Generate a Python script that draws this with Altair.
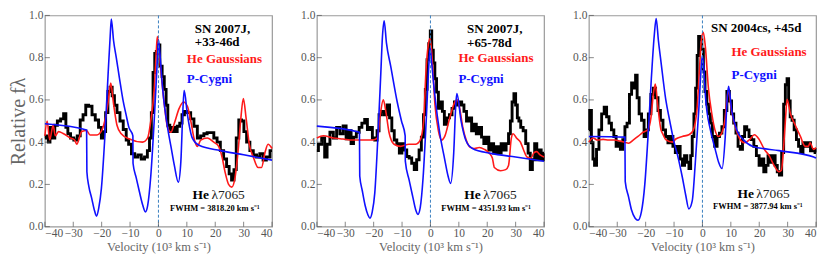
import altair as alt
import pandas as pd

FONT = "Liberation Serif"
W, H = 228, 212
SPACING = 21

X_TICKS = [-40, -30, -20, -10, 0, 10, 20, 30, 40]
Y_TICKS = [0.0, 0.2, 0.4, 0.6, 0.8, 1.0]
ZERO_LINE = [0]

# ---------------- Panel 1: SN 2007J, +33-46d ----------------
p1_black = [(-40,0.42),(-39.1,0.43),(-38.5,0.40),(-37.9,0.47),(-36.8,0.42),(-36.2,0.48),(-35,0.50),(-33.9,0.51),
            (-32.9,0.535),(-32.3,0.47),(-31.5,0.44),(-30.4,0.42),(-29.2,0.41),(-28,0.43),(-27.1,0.505),(-26,0.53),
            (-25.2,0.575),(-24,0.57),(-22.8,0.53),(-21.7,0.505),(-20.5,0.47),(-19.7,0.42),(-19,0.45),(-18.2,0.54),
            (-17.4,0.64),(-16.7,0.66),(-15.9,0.62),(-15.1,0.575),(-14.1,0.54),(-13,0.50),(-11.8,0.46),(-10.9,0.41),
            (-10.1,0.39),(-8.9,0.345),(-7.8,0.33),(-6.6,0.34),(-5.5,0.32),(-4.3,0.33),(-3.5,0.36),(-2.8,0.42),
            (-2.2,0.54),(-1.6,0.73),(-1,0.82),(-0.5,0.83),(0.1,0.86),(0.9,0.76),(1.7,0.71),(2.4,0.65),(3,0.575),
            (3.6,0.48),(4.4,0.45),(5.3,0.47),(6.1,0.45),(7.1,0.475),(7.9,0.49),(8.7,0.53),(9.6,0.546),(10.8,0.54),
            (11.9,0.51),(13.1,0.475),(14.3,0.42),(15.4,0.43),(16.6,0.44),(17.7,0.445),(18.9,0.445),(20.1,0.42),
            (21.2,0.40),(22.4,0.36),(23.5,0.32),(24.5,0.285),(25.3,0.25),(26.2,0.22),(27,0.27),(27.8,0.42),
            (28.8,0.505),(29.7,0.50),(30.5,0.45),(31.6,0.40),(32.8,0.36),(34,0.34),(35.1,0.33),(36.3,0.345),
            (37.4,0.315),(38.6,0.33),(40,0.36)]
p1_red = [(-40,0.43),(-39.2,0.50),(-38.3,0.41),(-37.1,0.48),(-36.3,0.43),(-35.2,0.45),(-33.4,0.44),(-31.1,0.42),
          (-29.5,0.41),(-28.8,0.39),(-27,0.45),(-25.3,0.455),(-24.1,0.434),(-21.8,0.434),(-20.2,0.45),(-18.9,0.50),
          (-17.7,0.59),(-16.8,0.68),(-15.8,0.58),(-14.6,0.48),(-13.1,0.44),(-10.2,0.415),(-5.6,0.40),(-3.8,0.42),
          (-2.7,0.50),(-1.5,0.65),(-0.8,0.82),(-0.4,0.90),(0.7,0.76),(2.1,0.575),(3.2,0.47),(4.4,0.447),(5.6,0.49),
          (7.3,0.56),(8.8,0.59),(10.2,0.57),(11.4,0.50),(12.5,0.42),(13.7,0.38),(14.9,0.41),(17.2,0.42),(19.5,0.40),
          (21.2,0.38),(22.4,0.33),(23.5,0.256),(24.7,0.20),(25.8,0.187),(27,0.235),(28.2,0.38),(29,0.51),(29.9,0.606),
          (30.9,0.51),(32,0.39),(33.4,0.33),(35.1,0.28),(36.3,0.28),(37.5,0.35),(38.6,0.39),(40,0.37)]
p1_blue = [(-40,0.487),(-25.3,0.458),(-25.2,0.26),(-24.5,0.19),(-23.5,0.134),(-22.5,0.075),(-21.8,0.05),(-21,0.09),
           (-20.1,0.18),(-18.9,0.42),(-17.7,0.73),(-17,0.9),(-16.6,0.983),(-15.8,0.88),(-14.85,0.80),(-13.7,0.70),
           (-12.5,0.60),(-11.4,0.53),(-10.4,0.47),(-9.0,0.43),(-8.95,0.30),(-7.8,0.23),(-6.7,0.165),(-5.6,0.105),
           (-4.6,0.07),(-3.8,0.10),(-2.7,0.24),(-1.5,0.50),(-0.35,0.80),(0,0.885),(0.5,0.82),(1.5,0.65),(3.2,0.47),
           (4.4,0.38),(5.6,0.29),(7.0,0.21),(7.9,0.31),(8.6,0.55),(9.05,0.645),(10.2,0.53),(11.9,0.42),(14.3,0.385),
           (21.8,0.36),(30,0.34),(40,0.315)]

# ---------------- Panel 2: SN 2007J, +65-78d ----------------
p2_black = [(-40,0.36),(-38.9,0.39),(-37.7,0.42),(-36.8,0.33),(-36,0.39),(-34.8,0.447),(-33.6,0.42),(-32.5,0.47),
            (-31.3,0.44),(-30.2,0.477),(-29.2,0.416),(-28.4,0.454),(-27.5,0.393),(-26.7,0.424),(-25.5,0.447),
            (-24.7,0.47),(-23.6,0.49),(-22.7,0.507),(-21.7,0.46),(-20.9,0.47),(-20,0.42),(-19.2,0.41),(-18.4,0.454),
            (-17.8,0.53),(-16.9,0.546),(-15.7,0.53),(-14.8,0.576),(-14,0.515),(-13.2,0.454),(-12.3,0.41),(-11.4,0.393),
            (-10.5,0.348),(-9.6,0.393),(-8.8,0.363),(-7.9,0.332),(-7.1,0.325),(-6.1,0.30),(-5.3,0.27),(-4.4,0.317),
            (-3.6,0.363),(-2.8,0.424),(-2.1,0.53),(-1.5,0.65),(-0.9,0.79),(-0.3,0.866),(0.2,0.927),(0.7,0.835),
            (1.3,0.775),(1.8,0.70),(2.5,0.637),(3.1,0.56),(3.9,0.59),(4.5,0.546),(5.3,0.485),(6.2,0.515),(7.2,0.53),
            (8,0.56),(8.9,0.59),(9.7,0.576),(10.6,0.59),(11.4,0.576),(12.2,0.546),(13.2,0.50),(14.1,0.515),(14.9,0.454),
            (15.7,0.485),(16.6,0.44),(17.6,0.47),(18.4,0.424),(19.2,0.393),(20.1,0.424),(21,0.363),(21.8,0.393),
            (22.7,0.348),(23.6,0.378),(24.5,0.348),(25.3,0.393),(26.2,0.363),(27.1,0.393),(27.9,0.44),(28.4,0.50),
            (29.1,0.59),(29.7,0.63),(30.3,0.576),(30.9,0.515),(31.4,0.50),(32.2,0.47),(33.1,0.454),(34,0.393),
            (34.8,0.348),(35.5,0.27),(36.3,0.317),(37.1,0.393),(37.8,0.317),(38.6,0.363),(39.4,0.317),(40,0.348)]
p2_red = [(-40,0.42),(-37.7,0.43),(-34.2,0.42),(-30.8,0.415),(-27.3,0.41),(-23.8,0.41),(-20.3,0.41),(-18.6,0.42),
          (-17.8,0.515),(-16.6,0.60),(-15.7,0.545),(-14.6,0.447),(-12.8,0.39),(-10.5,0.38),(-7.6,0.39),(-5.3,0.39),
          (-3.6,0.41),(-2.4,0.50),(-1.6,0.73),(-0.7,0.866),(-0.1,0.89),(0.7,0.775),(1.6,0.576),(2.8,0.454),(3.9,0.41),
          (5.1,0.43),(6.8,0.515),(8.6,0.59),(9.5,0.60),(10.3,0.56),(11.4,0.47),(12.6,0.41),(13.8,0.378),(15.5,0.37),
          (17.2,0.375),(19,0.366),(20.7,0.348),(21.8,0.325),(22.5,0.28),(24.7,0.265),(26.5,0.27),(27.5,0.29),
          (28.5,0.42),(29.1,0.44),(30.3,0.42),(31.7,0.40),(32.8,0.363),(34,0.33),(35.4,0.325),(36.5,0.35),
          (37.4,0.355),(38.6,0.34),(40,0.33)]
p2_blue = [(-40,0.476),(-25.0,0.447),(-24.9,0.24),(-24,0.17),(-23,0.10),(-22,0.055),(-21.3,0.04),(-20.5,0.07),
           (-19.6,0.16),(-18.6,0.40),(-17.5,0.72),(-16.9,0.90),(-16.3,0.975),(-15.5,0.87),(-14,0.76),(-11.7,0.59),
           (-10.2,0.50),(-8.9,0.43),(-8.85,0.31),(-7.5,0.22),(-6.2,0.14),(-5.2,0.08),(-4.4,0.058),(-3.6,0.09),
           (-2.6,0.23),(-1.5,0.50),(-0.5,0.78),(-0.1,0.845),(0.4,0.78),(1.56,0.62),(3.3,0.44),(5.0,0.32),(6.2,0.24),
           (7.1,0.205),(8.2,0.35),(8.9,0.57),(9.3,0.63),(10.8,0.50),(12.5,0.408),(14.8,0.37),(21.2,0.347),(30,0.33),
           (40,0.31)]

# ---------------- Panel 3: SN 2004cs, +45d ----------------
p3_black = [(-40,0.458),(-39.4,0.55),(-38.8,0.397),(-38.3,0.32),(-37.7,0.29),(-36.9,0.366),(-36,0.458),(-35,0.534),
            (-34.2,0.565),(-33.3,0.52),(-32.5,0.49),(-31.6,0.458),(-30.8,0.427),(-30,0.38),(-29.3,0.397),(-28.5,0.366),
            (-27.6,0.412),(-27,0.473),(-26.1,0.49),(-25.3,0.626),(-24.6,0.68),(-23.8,0.656),(-23.3,0.717),(-22.7,0.61),
            (-21.9,0.534),(-21,0.504),(-20.1,0.427),(-19.5,0.458),(-18.6,0.534),(-17.7,0.626),(-16.9,0.656),(-16.1,0.61),
            (-15.2,0.55),(-14.4,0.504),(-13.4,0.458),(-12.6,0.427),(-11.7,0.397),(-10.8,0.427),(-10,0.38),(-9.1,0.351),
            (-8.3,0.38),(-7.4,0.32),(-6.7,0.29),(-5.9,0.336),(-5.1,0.305),(-4.4,0.275),(-3.9,0.336),(-3.3,0.427),
            (-2.7,0.534),(-2.1,0.656),(-1.6,0.81),(-1.1,0.90),(-0.5,0.885),(0.06,0.84),(0.6,0.733),(1.2,0.64),(1.9,0.58),
            (2.5,0.534),(3.1,0.49),(3.9,0.427),(4.7,0.38),(5.6,0.427),(6.4,0.443),(7.3,0.473),(8.1,0.55),(9.1,0.64),
            (9.9,0.595),(10.6,0.534),(11.4,0.49),(12.2,0.443),(12.9,0.38),(13.7,0.366),(14.5,0.427),(15.2,0.473),
            (16,0.458),(16.8,0.427),(17.7,0.412),(18.5,0.38),(19.5,0.336),(20.4,0.29),(21.2,0.32),(22,0.26),(22.7,0.29),
            (23.5,0.336),(24.3,0.305),(25.2,0.336),(26,0.29),(26.7,0.26),(27.5,0.244),(28.3,0.351),(28.9,0.58),
            (29.5,0.672),(30.1,0.70),(30.6,0.595),(31.2,0.52),(31.9,0.504),(32.7,0.458),(33.5,0.412),(34.2,0.38),
            (35,0.351),(35.8,0.397),(36.8,0.38),(37.6,0.397),(38.5,0.359),(39.3,0.366),(40,0.351)]
p3_red = [(-40,0.40),(-38.5,0.42),(-37,0.41),(-35,0.413),(-33,0.41),(-31,0.41),(-29,0.405),(-27.5,0.40),(-26,0.395),
          (-24.4,0.41),(-22.7,0.427),(-21,0.446),(-19.2,0.46),(-18.1,0.52),(-17.3,0.626),(-16.6,0.675),(-15.8,0.58),
          (-14.6,0.458),(-14,0.44),(-12.9,0.412),(-10.6,0.40),(-9.4,0.415),(-7.1,0.427),(-4.8,0.435),(-3.3,0.455),
          (-1.9,0.56),(-1.1,0.733),(-0.4,0.88),(0.3,0.92),(1,0.855),(2.1,0.656),(3.3,0.534),(4.4,0.458),(5.6,0.427),
          (6.8,0.443),(7.9,0.504),(9.1,0.645),(10.2,0.55),(11.9,0.458),(13.7,0.405),(14.8,0.397),(16.6,0.412),
          (18.3,0.435),(20,0.412),(21.8,0.366),(23.5,0.336),(25.2,0.29),(27,0.26),(27.8,0.267),(28.7,0.397),
          (29.3,0.52),(29.8,0.603),(31,0.534),(32.7,0.48),(34.5,0.427),(36.2,0.38),(37.3,0.38),(37.9,0.397),
          (39.1,0.366),(40,0.374)]
p3_blue = [(-40,0.427),(-27.3,0.424),(-27.2,0.214),(-26,0.14),(-25,0.08),(-23.7,0.04),(-22.7,0.03),(-21.5,0.07),
           (-20.3,0.2),(-19.2,0.42),(-18,0.7),(-17,0.9),(-16.3,0.985),(-15.5,0.88),(-14.6,0.78),(-12.9,0.60),
           (-11.5,0.50),(-10,0.40),(-8.8,0.34),(-7.1,0.235),(-5.9,0.15),(-4.8,0.084),(-3.6,0.122),(-2.5,0.305),
           (-1.3,0.55),(-0.4,0.76),(0,0.81),(0.4,0.76),(1.1,0.61),(2.8,0.458),(4.5,0.366),(5.7,0.305),(6.9,0.275),
           (8.0,0.42),(8.7,0.6),(9.2,0.664),(10.3,0.55),(12.1,0.458),(14.4,0.412),(17.8,0.38),(27,0.36),(39.2,0.33),
           (40,0.325)]

# text labels
P1_TITLE = ["SN 2007J,", "+33-46d"]
P2_TITLE = ["SN 2007J,", "+65-78d"]
P3_TITLE = ["SN 2004cs, +45d"]
FWHM = ["FWHM = 3818.20 km s\u207b\u00b9", "FWHM = 4351.93 km s\u207b\u00b9", "FWHM = 3877.94 km s\u207b\u00b9"]
LINE_LABEL = ["He", "\u03bb7065"]
X_TITLE = "Velocity (10\u00b3 km s\u207b\u00b9)"
Y_TITLE = "Relative f\u03bb"


def df(pairs):
    return pd.DataFrame(pairs, columns=["v", "f"])


def txt(s, fx, fy, size=13, weight="bold", color="black", align="left", dx=0):
    return alt.Chart(pd.DataFrame({"a": [0]})).mark_text(
        text=s, font=FONT, fontSize=size, fontWeight=weight, color=color,
        align=align, baseline="middle", dx=dx
    ).encode(x=alt.value(fx * W), y=alt.value(fy * H))


def panel(black, red, blue, title_lines, title_pos, gauss_pos, pcyg_pos, he_pos, fwhm, fwhm_pos, first):
    xs = alt.Scale(domain=[-40, 40], nice=False, zero=False)
    ys = alt.Scale(domain=[0, 1], nice=False, zero=False)
    xaxis = alt.Axis(values=X_TICKS, title=X_TITLE, ticks=False, domain=False, grid=False,
                     labelFont=FONT, labelFontSize=11.5, labelColor="#555", labelPadding=1,
                     titleFont=FONT, titleFontSize=12.5, titleFontWeight="normal", titleColor="#666",
                     titlePadding=1)
    ykw = dict(values=Y_TICKS, format=".1f", ticks=False, domain=False, grid=False,
               labelFont=FONT, labelFontSize=11.5, labelColor="#555", labelPadding=2)
    if first:
        ykw.update(title=Y_TITLE, titleFont=FONT, titleFontSize=20, titleFontWeight="normal",
                   titleColor="#666", titlePadding=0)
    else:
        ykw.update(title="")
    yaxis = alt.Axis(**ykw)

    X = alt.X("v:Q", scale=xs, axis=xaxis)
    Y = alt.Y("f:Q", scale=ys, axis=yaxis)

    black_l = alt.Chart(df(black)).mark_line(color="black", strokeWidth=2.9, interpolate="step").encode(x=X, y=Y)
    red_l = alt.Chart(df(red)).mark_line(color="#ff1a1a", strokeWidth=1.6, interpolate="monotone").encode(x=X, y=Y)
    blue_l = alt.Chart(df(blue)).mark_line(color="#1010ff", strokeWidth=1.6, interpolate="monotone").encode(x=X, y=Y)
    zero_l = alt.Chart(pd.DataFrame({"v": ZERO_LINE})).mark_rule(
        color="#3a80c0", strokeDash=[3, 2], strokeWidth=1).encode(x=X, y=alt.value(0), y2=alt.value(H))

    xt = alt.Chart(pd.DataFrame({"v": X_TICKS})).mark_tick(
        orient="vertical", size=5, thickness=1, color="#555").encode(x=X, y=alt.value(H - 2.5))
    yt = alt.Chart(pd.DataFrame({"f": Y_TICKS})).mark_tick(
        orient="horizontal", size=5, thickness=1, color="#555").encode(y=Y, x=alt.value(2.5))

    layers = [black_l, red_l, blue_l, zero_l, xt, yt]
    for i, line in enumerate(title_lines):
        layers.append(txt(line, title_pos[0], title_pos[1] + i * 0.066))
    layers.append(txt("He Gaussians", gauss_pos[0], gauss_pos[1], color="#ff1a1a"))
    layers.append(txt("P-Cygni", pcyg_pos[0], pcyg_pos[1], color="#1010ff"))
    layers.append(txt(LINE_LABEL[0], he_pos[0], he_pos[1], size=13.5))
    layers.append(txt(LINE_LABEL[1], he_pos[0], he_pos[1], size=13.5, weight="normal", color="#222", dx=19))
    layers.append(txt(fwhm, fwhm_pos[0], fwhm_pos[1], size=8.5))
    return alt.layer(*layers).properties(width=W, height=H)


c1 = panel(p1_black, p1_red, p1_blue, P1_TITLE, (0.66, 0.062), (0.625, 0.205), (0.625, 0.30),
           (0.65, 0.85), FWHM[0], (0.551, 0.913), True)
c2 = panel(p2_black, p2_red, p2_blue, P2_TITLE, (0.661, 0.066), (0.623, 0.20), (0.623, 0.30),
           (0.649, 0.85), FWHM[1], (0.548, 0.913), False)
c3 = panel(p3_black, p3_red, p3_blue, P3_TITLE, (0.538, 0.061), (0.628, 0.175), (0.628, 0.282),
           (0.654, 0.845), FWHM[2], (0.547, 0.904), False)

chart = alt.hconcat(c1, c2, c3, spacing=SPACING).properties(
    background="white", padding={"left": 0, "right": 0, "top": 0, "bottom": 0}
).configure_view(stroke="#9a9a9a", strokeWidth=1.2)

chart.save("out.html", embed_options={"renderer": "svg", "actions": False})
